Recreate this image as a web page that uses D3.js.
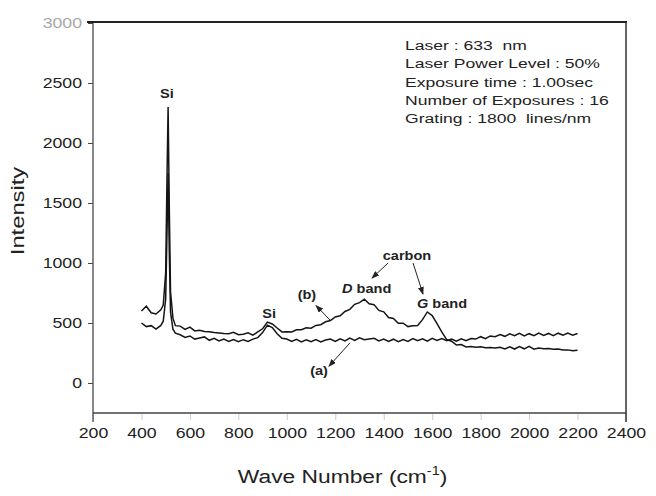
<!DOCTYPE html>
<html>
<head>
<meta charset="utf-8">
<script src="https://cdn.jsdelivr.net/npm/d3@7"></script>
<style>
  body { margin: 0; background: #fff; }
  svg { display: block; }
  text { font-family: "Liberation Sans", Arial, sans-serif; }
</style>
</head>
<body>
<svg id="chart" width="656" height="496"></svg>
<script>
// wave numbers shared by both spectra (cm-1)
const waveNumber = [
  400, 420, 440, 460, 480, 490, 500, 505, 510, 515, 520, 530, 540,
  560, 580, 600, 620, 640, 660, 680, 700, 720, 740,
  760, 780, 800, 820, 840, 860, 880, 900, 920, 940,
  960, 980, 1000, 1020, 1040, 1060, 1080, 1100, 1120, 1140,
  1160, 1180, 1200, 1220, 1240, 1260, 1280, 1300, 1320, 1340,
  1360, 1380, 1400, 1420, 1440, 1460, 1480, 1500, 1520, 1540,
  1560, 1580, 1600, 1620, 1640, 1660, 1680, 1700, 1720, 1740,
  1760, 1780, 1800, 1820, 1840, 1860, 1880, 1900, 1920, 1940,
  1960, 1980, 2000, 2020, 2040, 2060, 2080, 2100, 2120, 2140,
  2160, 2180, 2200
];

// spectrum (a)
const intensityA = [
  500, 470, 478, 450, 480, 515, 700, 1200, 1750, 1080, 590, 448, 415,
  402, 380, 392, 366, 375, 384, 356, 372, 350, 366,
  346, 362, 344, 361, 347, 366, 378, 420, 482, 462,
  410, 372, 366, 346, 364, 343, 360, 345, 362, 342,
  358, 366, 346, 368, 350, 374, 354, 377, 360, 366,
  372, 350, 367, 346, 365, 344, 362, 347, 370, 352,
  368, 349, 372, 354, 370, 352, 366, 349, 368, 352,
  371, 366, 386, 370, 392, 386, 403, 389, 410, 394,
  413, 392, 411, 395, 416, 396, 413, 394, 415, 398,
  416, 399, 412
];

// spectrum (b), with the carbon D and G bands
const intensityB = [
  600, 640, 585, 575, 610, 650, 920, 1650, 2300, 1450, 760, 540, 478,
  474, 446, 466, 434, 440, 430, 428, 420, 416, 412,
  410, 422, 402, 406, 418, 398, 426, 452, 508, 492,
  458, 426, 428, 426, 444, 444, 460, 457, 480, 486,
  510, 520, 550, 560, 596, 614, 656, 670, 698, 660,
  653, 605, 593, 546, 538, 497, 498, 470, 478, 480,
  528, 592, 562, 494, 424, 362, 348, 316, 320, 300,
  305, 297, 302, 294, 296, 292, 298, 284, 302, 283,
  304, 285, 305, 282, 292, 286, 288, 282, 283, 276,
  276, 269, 272
];

const xTicks = [200, 400, 600, 800, 1000, 1200, 1400, 1600, 1800, 2000, 2200, 2400];
const yTicks = [0, 500, 1000, 1500, 2000, 2500, 3000];

const infoLines = [
  "Laser : 633  nm",
  "Laser Power Level : 50%",
  "Exposure time : 1.00sec",
  "Number of Exposures : 16",
  "Grating : 1800  lines/nm"
];

// peak labels, placed in data units
const peakLabels = [
  {text: "Si", wn: 505, i: 2375},
  {text: "Si", wn: 927, i: 542}
];

// arrows in data units [from, to]
const arrows = [
  [[1178, 525], [1121, 645]],   // (b)
  [[1261, 335], [1174, 140]],   // (a)
  [[1418, 1000], [1352, 875]],  // carbon -> D band
  [[1521, 1000], [1562, 742]]   // carbon -> G band
];

const margin = {top: 23, right: 30, bottom: 83, left: 93};
const W = 656, H = 496;
const width = W - margin.left - margin.right;
const height = H - margin.top - margin.bottom;

// the scanned figure is stretched sideways, so is its lettering
function widen(sel, k) {
  sel.each(function() {
    const t = d3.select(this);
    const x = +t.attr("x") || 0, y = +t.attr("y") || 0;
    t.attr("x", 0).attr("y", 0)
      .attr("transform", `translate(${x},${y}) scale(${k},1)`);
  });
}

function drawChart() {
  const svg = d3.select("#chart");

  const x = d3.scaleLinear().domain([200, 2400]).range([margin.left, margin.left + width]);
  const y = d3.scaleLinear().domain([-250, 3000]).range([margin.top + height, margin.top]);

  svg.append("defs").append("marker")
    .attr("id", "head")
    .attr("markerUnits", "userSpaceOnUse")
    .attr("markerWidth", 8).attr("markerHeight", 6)
    .attr("refX", 7).attr("refY", 3)
    .attr("orient", "auto")
    .append("path")
    .attr("d", "M0,0 L8,3 L0,6 Z")
    .attr("fill", "#222");

  // y axis
  const yAxis = svg.append("g")
    .attr("transform", `translate(${margin.left},0)`)
    .call(d3.axisLeft(y).tickValues(yTicks).tickFormat(d3.format("d"))
      .tickSize(5).tickPadding(6).tickSizeOuter(0));
  yAxis.select(".domain").remove();
  yAxis.selectAll("line").attr("stroke", "#444");
  yAxis.selectAll("text")
    .style("font-family", "'Liberation Sans', Arial, sans-serif")
    .style("font-size", "15px")
    .style("fill", d => d === 3000 ? "#a8a8a8" : "#222");
  widen(yAxis.selectAll("text"), 1.18);

  // x axis
  const xAxis = svg.append("g")
    .attr("transform", `translate(0,${margin.top + height})`)
    .call(d3.axisBottom(x).tickValues(xTicks).tickFormat(d3.format("d"))
      .tickSize(7).tickPadding(7).tickSizeOuter(0));
  xAxis.select(".domain").remove();
  xAxis.selectAll("line").attr("stroke", "#ccc");
  xAxis.selectAll("text")
    .style("font-family", "'Liberation Sans', Arial, sans-serif")
    .style("font-size", "15px")
    .style("fill", "#222");
  widen(xAxis.selectAll("text"), 1.18);

  // frame
  const frame = svg.append("g").attr("fill", "none");
  frame.append("line")
    .attr("x1", margin.left).attr("x2", margin.left)
    .attr("y1", margin.top - 1).attr("y2", margin.top + height + 9)
    .attr("stroke", "#555").attr("stroke-width", 1.4);
  frame.append("line")
    .attr("x1", margin.left).attr("x2", margin.left + width)
    .attr("y1", margin.top + height).attr("y2", margin.top + height)
    .attr("stroke", "#444").attr("stroke-width", 1.4);
  frame.append("line")
    .attr("x1", margin.left - 6).attr("x2", margin.left + width + 1)
    .attr("y1", margin.top - 1).attr("y2", margin.top - 1)
    .attr("stroke", "#222").attr("stroke-width", 2);
  frame.append("line")
    .attr("x1", margin.left + width).attr("x2", margin.left + width)
    .attr("y1", margin.top - 1).attr("y2", margin.top + height + 9)
    .attr("stroke", "#333").attr("stroke-width", 1.5);

  // spectra
  const line = d3.line()
    .x((d, i) => x(waveNumber[i]))
    .y(d => y(d));

  svg.append("g")
    .selectAll("path")
    .data([intensityA, intensityB])
    .enter()
    .append("path")
    .attr("d", line)
    .attr("fill", "none")
    .attr("stroke", "#151515")
    .attr("stroke-width", 1.5);

  // arrows
  svg.append("g")
    .selectAll("line")
    .data(arrows)
    .enter()
    .append("line")
    .attr("x1", a => x(a[0][0])).attr("y1", a => y(a[0][1]))
    .attr("x2", a => x(a[1][0])).attr("y2", a => y(a[1][1]))
    .attr("stroke", "#222").attr("stroke-width", 1)
    .attr("marker-end", "url(#head)");

  // annotations
  const notes = svg.append("g")
    .style("font-weight", "bold")
    .style("font-size", "13px")
    .style("fill", "#222");

  notes.selectAll("text.peak")
    .data(peakLabels)
    .enter()
    .append("text")
    .attr("class", "peak")
    .attr("x", d => x(d.wn)).attr("y", d => y(d.i))
    .attr("text-anchor", "middle")
    .text(d => d.text);

  notes.append("text").attr("x", x(1083)).attr("y", y(700))
    .attr("text-anchor", "middle").text("(b)");
  notes.append("text").attr("x", x(1133)).attr("y", y(67))
    .attr("text-anchor", "middle").text("(a)");
  notes.append("text").attr("x", x(1496)).attr("y", y(1025))
    .attr("text-anchor", "middle").text("carbon");

  const dBand = notes.append("text").attr("x", x(1228)).attr("y", y(750));
  dBand.append("tspan").style("font-style", "italic").text("D");
  dBand.append("tspan").text(" band");

  const gBand = notes.append("text").attr("x", x(1537)).attr("y", y(625));
  gBand.append("tspan").style("font-style", "italic").text("G");
  gBand.append("tspan").text(" band");

  widen(notes.selectAll("text"), 1.12);

  // measurement conditions
  const info = svg.append("g")
    .style("fill", "#222")
    .selectAll("text")
    .data(infoLines)
    .enter()
    .append("text")
    .attr("x", x(1488))
    .attr("y", (d, i) => 50 + i * 18.3)
    .style("font-size", "13.5px")
    .style("white-space", "pre")
    .text(d => d);
  widen(info, 1.3);

  // axis titles
  const xt = svg.append("text")
    .attr("x", x(1230)).attr("y", 483)
    .attr("text-anchor", "middle")
    .style("font-size", "19px")
    .style("fill", "#222");
  xt.append("tspan").text("Wave Number (cm");
  xt.append("tspan").attr("dy", -8).style("font-size", "12px").text("-1");
  xt.append("tspan").attr("dy", 8).text(")");
  widen(xt, 1.2);

  svg.append("text")
    .attr("transform", "translate(24,211) rotate(-90) scale(1.25,1)")
    .attr("text-anchor", "middle")
    .style("font-size", "19px")
    .style("fill", "#222")
    .text("Intensity");
}

drawChart();
</script>
</body>
</html>
